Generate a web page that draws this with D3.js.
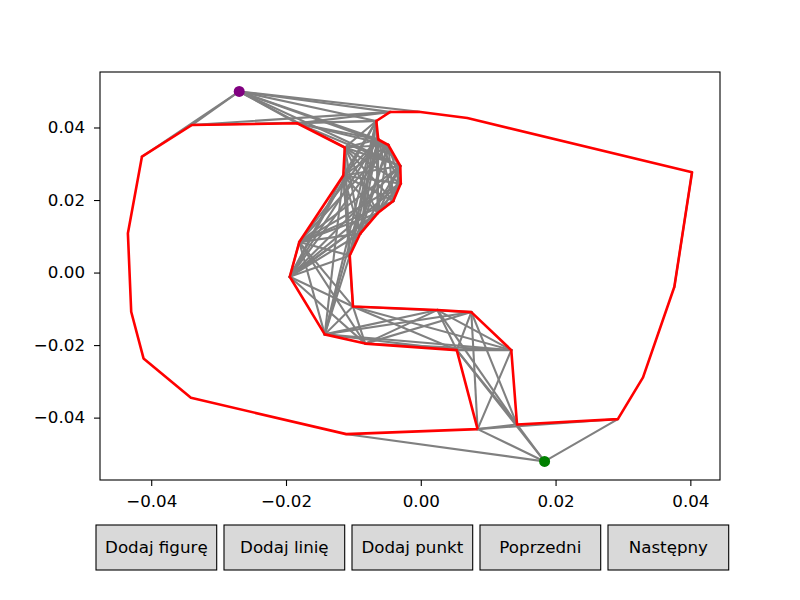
<!DOCTYPE html>
<html>
<head>
<meta charset="utf-8">
<script src="https://cdn.jsdelivr.net/npm/d3@7"></script>
<style>
  body { margin: 0; background: #fff; }
  svg { display: block; font-family: "DejaVu Sans", sans-serif; }
</style>
</head>
<body>
<svg id="chart" width="800" height="600"></svg>
<script>
// obstacle polygons (data coords)
var leftPoly = [
  [0.00843, -0.04317], [0.00534, -0.02138], [-0.00824, -0.01959], [-0.01425, -0.01705],
  [-0.01944, -0.00116], [-0.01803, 0.00841], [-0.01150, 0.02676], [-0.01128, 0.03448],
  [-0.01833, 0.04116], [-0.03396, 0.04069], [-0.04138, 0.03194], [-0.04346, 0.01081],
  [-0.04297, -0.01081], [-0.04114, -0.02367], [-0.03411, -0.03454], [-0.01106, -0.04455]
];
var rightPoly = [
  [-0.00033, 0.04436], [0.00690, 0.04262], [0.04025, 0.02764], [0.03763, -0.00392],
  [0.03298, -0.02891], [0.02924, -0.04041], [0.01428, -0.04188], [0.01343, -0.02138],
  [0.00750, -0.01090], [0.00245, -0.01034], [-0.01006, -0.00938], [-0.01054, 0.00469],
  [-0.00898, 0.01076], [-0.00638, 0.01641], [-0.00408, 0.01972], [-0.00297, 0.02455],
  [-0.00304, 0.02938], [-0.00482, 0.03517], [-0.00631, 0.03669], [-0.00660, 0.04179],
  [-0.00453, 0.04428]
];
var startPoint = [-0.02694, 0.04993];
var endPoint = [0.01837, -0.05208];

var xTicks = [-0.04, -0.02, 0.00, 0.02, 0.04];
var yTicks = [-0.04, -0.02, 0.00, 0.02, 0.04];
var buttonLabels = ["Dodaj figurę", "Dodaj linię", "Dodaj punkt", "Poprzedni", "Następny"];

var svg = d3.select('#chart');
var plot = { left: 100, right: 720, top: 72, bottom: 480 };

var x = d3.scaleLinear().domain([-0.0476, 0.0444]).range([plot.left, plot.right]);
var y = d3.scaleLinear().domain([-0.0572, 0.0553]).range([plot.bottom, plot.top]);

var polys = [leftPoly, rightPoly];

// --- visibility graph between vertices, start and end ---
function orient(a, b, c) {
  return (b[0] - a[0]) * (c[1] - a[1]) - (b[1] - a[1]) * (c[0] - a[0]);
}
function crosses(a, b, c, d) {
  var eps = 1e-12;
  var o1 = orient(a, b, c), o2 = orient(a, b, d);
  var o3 = orient(c, d, a), o4 = orient(c, d, b);
  return ((o1 > eps && o2 < -eps) || (o1 < -eps && o2 > eps)) &&
         ((o3 > eps && o4 < -eps) || (o3 < -eps && o4 > eps));
}
function inside(p, poly) {
  var c = false;
  for (var i = 0, j = poly.length - 1; i < poly.length; j = i++) {
    var a = poly[i], b = poly[j];
    if ((a[1] > p[1]) != (b[1] > p[1]) &&
        p[0] < (b[0] - a[0]) * (p[1] - a[1]) / (b[1] - a[1]) + a[0]) c = !c;
  }
  return c;
}
function visible(a, b) {
  for (var k = 0; k < polys.length; k++) {
    var poly = polys[k];
    for (var i = 0; i < poly.length; i++) {
      var c = poly[i], d = poly[(i + 1) % poly.length];
      if (c === a || c === b || d === a || d === b) continue;
      if (crosses(a, b, c, d)) return false;
    }
  }
  for (var s = 1; s < 60; s++) {
    var t = s / 60;
    var p = [a[0] + (b[0] - a[0]) * t, a[1] + (b[1] - a[1]) * t];
    if (inside(p, leftPoly) || inside(p, rightPoly)) return false;
  }
  return true;
}

var nodes = [startPoint, endPoint].concat(leftPoly, rightPoly);
var edges = [];
for (var i = 0; i < nodes.length; i++) {
  for (var j = i + 1; j < nodes.length; j++) {
    if (visible(nodes[i], nodes[j])) edges.push([nodes[i], nodes[j]]);
  }
}

svg.append('g')
  .selectAll('line')
  .data(edges)
  .join('line')
  .attr('x1', d => x(d[0][0])).attr('y1', d => y(d[0][1]))
  .attr('x2', d => x(d[1][0])).attr('y2', d => y(d[1][1]))
  .attr('stroke', 'gray')
  .attr('stroke-width', 2.1)
  .attr('stroke-linecap', 'square');

var line = d3.line().x(d => x(d[0])).y(d => y(d[1]));
svg.append('g')
  .selectAll('path')
  .data(polys)
  .join('path')
  .attr('d', d => line(d.concat([d[0]])))
  .attr('fill', 'none')
  .attr('stroke', 'red')
  .attr('stroke-width', 2.6)
  .attr('stroke-linejoin', 'round');

svg.append('circle')
  .attr('cx', x(startPoint[0])).attr('cy', y(startPoint[1])).attr('r', 5.5)
  .attr('fill', 'purple');
svg.append('circle')
  .attr('cx', x(endPoint[0])).attr('cy', y(endPoint[1])).attr('r', 5.5)
  .attr('fill', 'green');

// axes
var fmt = d => d3.format('.2f')(d).replace('-', '\u2212');
svg.append('g')
  .attr('transform', 'translate(0,' + plot.bottom + ')')
  .call(d3.axisBottom(x).tickValues(xTicks).tickFormat(fmt).tickSize(6).tickPadding(9))
  .call(g => g.select('.domain').remove());
svg.append('g')
  .attr('transform', 'translate(' + plot.left + ',0)')
  .call(d3.axisLeft(y).tickValues(yTicks).tickFormat(fmt).tickSize(6).tickPadding(9))
  .call(g => g.select('.domain').remove());
svg.selectAll('.tick text').attr('font-size', 16.7).attr('font-family', 'DejaVu Sans').attr('fill', '#000');
svg.selectAll('.tick line').attr('stroke', '#000').attr('stroke-width', 1.1);

svg.append('rect')
  .attr('x', plot.left).attr('y', plot.top)
  .attr('width', plot.right - plot.left).attr('height', plot.bottom - plot.top)
  .attr('fill', 'none').attr('stroke', '#000').attr('stroke-width', 1.1);

// buttons
var bx = d3.scaleBand().domain(buttonLabels).range([96, 728.7]).paddingInner(0.057).paddingOuter(0);
var btn = svg.append('g').selectAll('g').data(buttonLabels).join('g')
  .attr('transform', d => 'translate(' + bx(d) + ',525)');
btn.append('rect')
  .attr('width', bx.bandwidth()).attr('height', 45)
  .attr('fill', '#d9d9d9').attr('stroke', '#000').attr('stroke-width', 1.1);
btn.append('text')
  .attr('x', bx.bandwidth() / 2).attr('y', 22.5).attr('dy', '0.35em')
  .attr('text-anchor', 'middle').attr('font-size', 16.7)
  .text(d => d);
</script>
</body>
</html>
